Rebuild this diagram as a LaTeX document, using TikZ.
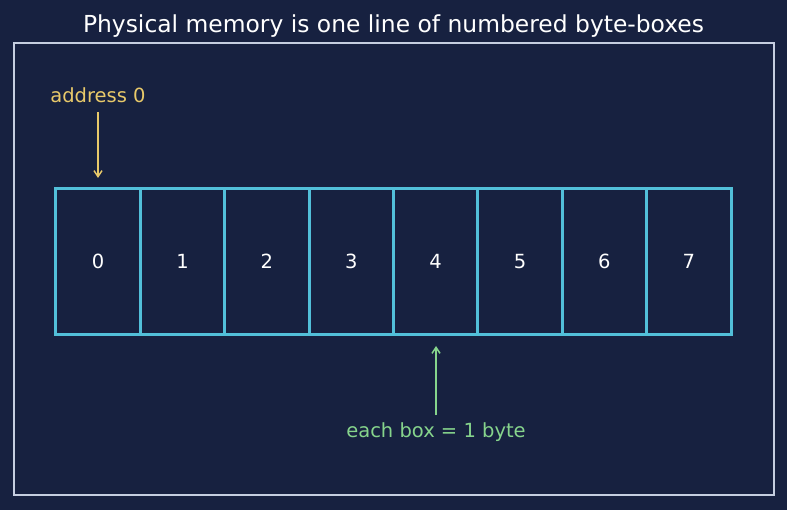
\documentclass[tikz,border=0pt]{standalone}
\usepackage{fontspec}
\setmainfont{DejaVu Sans}
\usetikzlibrary{arrows.meta}
\definecolor{bgc}{HTML}{172140}
\definecolor{framec}{HTML}{C5CEE0}
\definecolor{boxc}{HTML}{52BFD9}
\definecolor{addrc}{HTML}{E8C96A}
\definecolor{notec}{HTML}{86D48C}
\begin{document}
\begin{tikzpicture}[x=1pt,y=-1pt,
  bytebox/.style={draw=boxc,line width=3pt,minimum width=84.4pt,minimum height=146pt,inner sep=0pt,text=white,font=\fontsize{19.5}{22}\selectfont},
  lbl/.style={font=\fontsize{19.5}{22}\selectfont,inner sep=0pt},
  arr/.style={line width=1.5pt,-{Straight Barb[length=6pt,width=8pt]}}]
\fill[bgc] (0,0) rectangle (787,510);
\useasboundingbox (0,0) rectangle (787,510);
\node[font=\fontsize{23.4}{26}\selectfont,text=white,inner sep=0pt] (title) at (393.5,26) {Physical memory is one line of numbered byte-boxes};
\draw[framec,line width=1.5pt] (14,43) rectangle (774,495);
\foreach \i in {0,...,7}{
  \node[bytebox] (b\i) at ({56+84.375*(\i+0.5)},261.5) {\i};
}
\node[lbl,text=addrc] (addr) at (98,95.5) {address 0};
\coordinate (addrend) at (98,178);
\draw[arr,addrc] (98,112) -- (addrend);
\node[lbl,text=notec] (note) at (436,432) {each box = 1 byte};
\coordinate (noteend) at (436,346);
\draw[arr,notec] (436,415) -- (noteend);
\end{tikzpicture}
\end{document}
